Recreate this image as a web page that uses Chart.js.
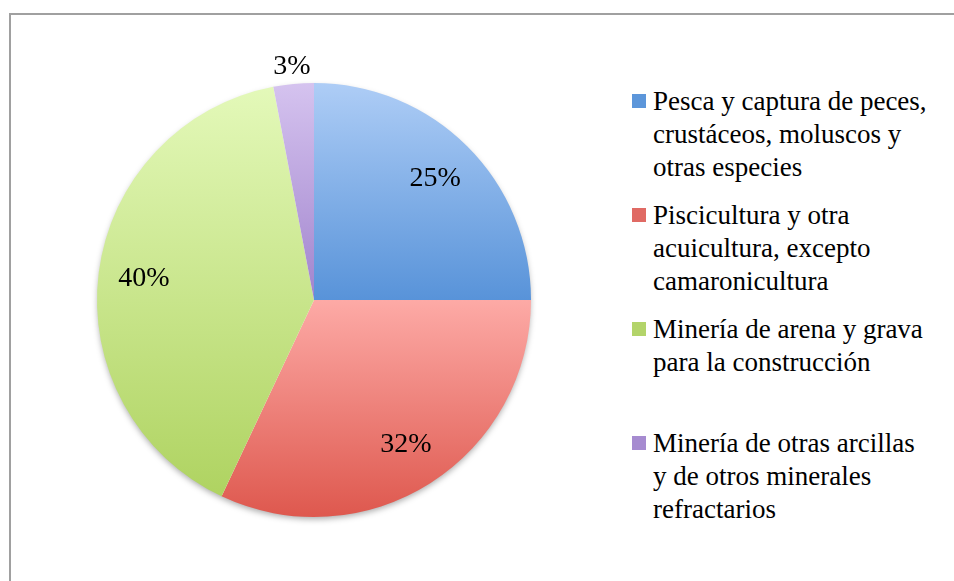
<!DOCTYPE html>
<html>
<head>
<meta charset="utf-8">
<script src="https://cdn.jsdelivr.net/npm/chart.js@4"></script>
<style>
  body { margin: 0; background: #fff; width: 954px; height: 581px; overflow: hidden; position: relative; }
  #frame { position: absolute; left: 9px; top: 13px; right: -5px; bottom: -5px; border-left: 2px solid #a0a0a0; border-top: 2px solid #a0a0a0; }
  #wrap { position: absolute; left: 0; top: 0; width: 628px; height: 581px; }
  #legend { position: absolute; left: 632px; top: 85px; font-family: "Liberation Serif", serif; font-size: 27px; line-height: 33px; color: #000; }
  .item { position: relative; padding-left: 21px; }
  .box { position: absolute; left: 0; top: 9px; width: 14px; height: 14px; }
</style>
</head>
<body>
<div id="frame"></div>
<div id="wrap"><canvas id="pie"></canvas></div>
<div id="legend"></div>
<script>
// data
const categories = [
  ["Pesca y captura de peces,", "crustáceos, moluscos y", "otras especies"],
  ["Piscicultura y otra", "acuicultura, excepto", "camaronicultura"],
  ["Minería de arena y grava", "para la construcción"],
  ["Minería de otras arcillas", "y de otros minerales", "refractarios"]
]
const shares = [25, 32, 40, 3]
const pctLabels = ["25%", "32%", "40%", "3%"]

// light top -> dark bottom, stops as fraction of the pie height
const gradients = [
  [[0, '#aecdf6'], [0.5, '#5893d9']],
  [[0.5, '#fdaaa6'], [1, '#de584e']],
  [[0, '#e4f9ba'], [0.95, '#afd361']],
  [[0, '#d5c3ef'], [0.5, '#a184cd']]
]
const legendColors = ['#5c96da', '#e06a64', '#b3d46a', '#a68bd0']
const legendGaps = [0, 15, 15, 48]

// legend
const legend = document.getElementById('legend')
categories.forEach((lines, i) => {
  const div = document.createElement('div')
  div.className = 'item'
  div.style.marginTop = legendGaps[i] + 'px'
  div.innerHTML = '<span class="box" style="background:' + legendColors[i] + '"></span>' + lines.join('<br>')
  legend.appendChild(div)
})

function sliceFill(ctx) {
  const area = ctx.chart.chartArea
  if (!area) return '#ccc'
  const g = ctx.chart.ctx.createLinearGradient(0, area.top, 0, area.bottom)
  gradients[ctx.dataIndex].forEach(s => g.addColorStop(s[0], s[1]))
  return g
}

// pie shadow under the slices
const shadowPlugin = {
  id: 'shadow',
  beforeDatasetsDraw(chart) {
    const arc = chart.getDatasetMeta(0).data[0]
    if (!arc) return
    const c = chart.ctx
    c.save()
    c.shadowColor = 'rgba(0,0,0,0.35)'
    c.shadowBlur = 6
    c.shadowOffsetY = 3
    c.beginPath()
    c.arc(arc.x, arc.y, arc.outerRadius - 1, 0, Math.PI * 2)
    c.fillStyle = '#fff'
    c.fill()
    c.restore()
  }
}

// percent labels
const labelPlugin = {
  id: 'pctLabels',
  afterDatasetsDraw(chart) {
    const c = chart.ctx
    c.save()
    c.font = '28px "Liberation Serif", serif'
    c.fillStyle = '#000'
    c.textAlign = 'center'
    c.textBaseline = 'middle'
    chart.getDatasetMeta(0).data.forEach((arc, i) => {
      const p = arc.getProps(['x', 'y', 'startAngle', 'endAngle', 'outerRadius'])
      const mid = (p.startAngle + p.endAngle) / 2
      const d = shares[i] < 5 ? p.outerRadius + 17 : p.outerRadius * 0.79
      c.fillText(pctLabels[i], p.x + Math.cos(mid) * d, p.y + Math.sin(mid) * d)
    })
    c.restore()
  }
}

const chart = new Chart(document.getElementById('pie'), {
  type: 'pie',
  data: {
    labels: categories.map(l => l.join(' ')),
    datasets: [{
      data: shares,
      backgroundColor: sliceFill,
      borderWidth: 0
    }]
  },
  options: {
    responsive: true,
    maintainAspectRatio: false,
    animation: false,
    events: [],
    layout: { padding: { top: 83, bottom: 64, left: 97, right: 97 } },
    plugins: {
      legend: { display: false },
      tooltip: { enabled: false }
    }
  },
  plugins: [shadowPlugin, labelPlugin]
})
</script>
</body>
</html>
